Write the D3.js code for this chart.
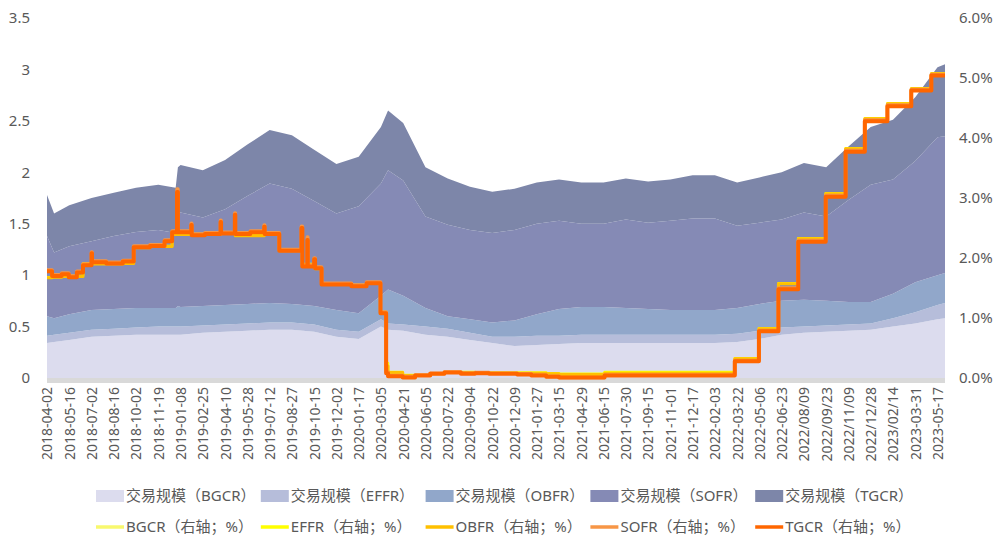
<!DOCTYPE html>
<html>
<head>
<meta charset="utf-8">
<script src="https://cdn.jsdelivr.net/npm/d3@7"></script>
<style>
  body { margin: 0; background: #fff; }
  text { font-family: "Noto Sans", "Noto Sans CJK SC", sans-serif; fill: #595959; }
</style>
</head>
<body>
<div id="grafico"></div>
<script>
// x axis labels (category axis, evenly spaced)
const tickLabels = [
  "2018-04-02", "2018-05-16", "2018-07-02", "2018-08-16", "2018-10-02", "2018-11-19",
  "2019-01-08", "2019-02-25", "2019-04-10", "2019-05-28", "2019-07-12", "2019-08-27",
  "2019-10-15", "2019-12-02", "2020-01-17", "2020-03-05", "2020-04-21", "2020-06-05",
  "2020-07-22", "2020-09-04", "2020-10-22", "2020-12-09", "2021-01-27", "2021-03-15",
  "2021-04-29", "2021-06-15", "2021-07-30", "2021-09-15", "2021-11-01", "2021-12-17",
  "2022-02-03", "2022-03-22", "2022-05-06", "2022-06-23", "2022/08/09", "2022/09/23",
  "2022/11/09", "2022/12/28", "2023/02/14", "2023-03-31", "2023-05-17"
];
const lastDate = "2023-06-02";

// 交易规模 (万亿美元)
const volDates = [
  "2018-04-02", "2018-04-16", "2018-05-16", "2018-07-02", "2018-08-16", "2018-10-02",
  "2018-11-19", "2018-12-28", "2019-01-02", "2019-01-08", "2019-02-25", "2019-04-10",
  "2019-05-28", "2019-07-12", "2019-08-27", "2019-10-15", "2019-12-02", "2020-01-17",
  "2020-03-05", "2020-03-20", "2020-04-21", "2020-06-05", "2020-07-22", "2020-09-04",
  "2020-10-22", "2020-12-09", "2021-01-27", "2021-03-15", "2021-04-29", "2021-06-15",
  "2021-07-30", "2021-09-15", "2021-11-01", "2021-12-17", "2022-02-03", "2022-03-22",
  "2022-05-06", "2022-06-23", "2022-08-09", "2022-09-23", "2022-11-09", "2022-12-28",
  "2023-02-14", "2023-03-31", "2023-05-17", "2023-06-02"
];
const volBGCR = [.34, .35, .37, .40, .41, .42, .42, .42, .42, .42, .44, .45, .46, .47, .47, .45, .40, .38,
  .50, .47, .46, .42, .40, .37, .34, .31, .32, .33, .34, .34, .34, .34, .34, .34, .34, .35,
  .38, .42, .44, .45, .46, .47, .50, .53, .57, .58];
const volEFFR = [.07, .07, .07, .07, .07, .07, .08, .08, .08, .08, .07, .07, .07, .07, .07, .07, .07, .07,
  .07, .06, .06, .08, .08, .07, .06, .09, .09, .08, .08, .08, .08, .08, .08, .08, .08, .08,
  .08, .07, .06, .06, .06, .06, .08, .11, .14, .15];
const volOBFR = [.19, .16, .18, .19, .19, .19, .18, .18, .20, .19, .19, .19, .19, .19, .18, .18, .19, .18,
  .23, .33, .28, .18, .12, .13, .14, .16, .21, .26, .27, .27, .26, .25, .24, .24, .24, .25,
  .26, .26, .26, .24, .22, .21, .24, .29, .29, .29];
const volSOFR = [.78, .64, .66, .67, .71, .74, .76, .73, .90, .92, .86, .93, 1.05, 1.16, 1.12, 1.02, .94, 1.04,
  1.09, 1.16, 1.12, .89, .89, .87, .87, .88, .88, .86, .81, .81, .86, .84, .87, .89, .89, .80,
  .79, .79, .85, .82, .99, 1.14, 1.11, 1.18, 1.34, 1.33];
const volTGCR = [.40, .38, .40, .42, .42, .43, .44, .44, .45, .46, .46, .48, .50, .52, .52, .50, .48, .48,
  .55, .58, .56, .48, .45, .42, .40, .40, .40, .40, .40, .40, .40, .40, .40, .42, .42, .42,
  .44, .46, .48, .48, .52, .56, .58, .62, .68, .70];

// 利率 (右轴, %), 数值在下一日期前保持
const rateDates = [
  "2018-04-02", "2018-04-12", "2018-05-01", "2018-05-15", "2018-06-01", "2018-06-14", "2018-07-02",
  "2018-07-03", "2018-08-01", "2018-09-04", "2018-09-27", "2018-11-01", "2018-12-03", "2018-12-20",
  "2018-12-31", "2019-01-02", "2019-01-31", "2019-02-01", "2019-03-01", "2019-04-01", "2019-04-02",
  "2019-05-01", "2019-05-02", "2019-06-03", "2019-07-01", "2019-07-02", "2019-08-01", "2019-09-17",
  "2019-09-19", "2019-09-30", "2019-10-01", "2019-10-15", "2019-10-17", "2019-10-31", "2020-01-02",
  "2020-02-03", "2020-03-04", "2020-03-16", "2020-03-20", "2020-04-20", "2020-05-15", "2020-06-15",
  "2020-07-15", "2020-08-17", "2020-09-15", "2020-10-15", "2020-11-16", "2020-12-15", "2021-01-15",
  "2021-02-16", "2021-03-15", "2021-06-17", "2022-03-17", "2022-05-05", "2022-06-16", "2022-07-28",
  "2022-09-22", "2022-11-03", "2022-12-15", "2023-02-02", "2023-03-23", "2023-05-04", "2023-06-02"
];
const rateBGCR = [1.78, 1.70, 1.74, 1.69, 1.77, 1.89, 2.09, 1.94, 1.92, 1.95, 2.19, 2.21, 2.29, 2.44,
  3.12, 2.44, 2.56, 2.39, 2.41, 2.61, 2.42, 2.73, 2.41, 2.44, 2.53, 2.41, 2.13, 2.51, 1.87, 2.32,
  1.87, 1.99, 1.84, 1.57, 1.54, 1.59, 1.09, 0.09, 0.03, 0.01, 0.04, 0.07, 0.09, 0.07, 0.08, 0.07,
  0.07, 0.06, 0.04, 0.02, 0.01, 0.04, 0.28, 0.78, 1.49, 2.28, 3.03, 3.78, 4.29, 4.54, 4.80, 5.05, 5.05];
const rateEFFR = [1.68, 1.69, 1.70, 1.70, 1.70, 1.91, 1.91, 1.91, 1.91, 1.92, 2.18, 2.20, 2.20, 2.40,
  2.40, 2.40, 2.40, 2.40, 2.40, 2.42, 2.42, 2.45, 2.38, 2.38, 2.40, 2.40, 2.13, 2.30, 1.90, 1.90,
  1.90, 1.85, 1.83, 1.58, 1.55, 1.59, 1.10, 0.25, 0.10, 0.05, 0.05, 0.08, 0.10, 0.10, 0.09, 0.09,
  0.09, 0.09, 0.09, 0.08, 0.07, 0.10, 0.33, 0.83, 1.58, 2.33, 3.08, 3.83, 4.33, 4.58, 4.83, 5.08, 5.08];
const rateOBFR = [1.67, 1.68, 1.69, 1.69, 1.69, 1.90, 1.90, 1.90, 1.90, 1.91, 2.17, 2.19, 2.19, 2.39,
  2.39, 2.39, 2.39, 2.39, 2.39, 2.41, 2.41, 2.43, 2.37, 2.37, 2.39, 2.39, 2.12, 2.28, 1.89, 1.89,
  1.89, 1.84, 1.82, 1.57, 1.54, 1.58, 1.09, 0.20, 0.09, 0.04, 0.04, 0.07, 0.09, 0.09, 0.08, 0.08,
  0.08, 0.08, 0.08, 0.07, 0.06, 0.08, 0.32, 0.82, 1.57, 2.32, 3.07, 3.82, 4.32, 4.57, 4.82, 5.07, 5.07];
const rateSOFR = [1.80, 1.72, 1.75, 1.70, 1.78, 1.90, 2.10, 1.95, 1.93, 1.96, 2.20, 2.22, 2.30, 2.45,
  3.15, 2.45, 2.58, 2.40, 2.42, 2.63, 2.43, 2.75, 2.42, 2.45, 2.55, 2.42, 2.14, 2.53, 1.88, 2.35,
  1.88, 2.00, 1.85, 1.58, 1.55, 1.60, 1.10, 0.10, 0.04, 0.02, 0.05, 0.08, 0.10, 0.08, 0.09, 0.08,
  0.08, 0.07, 0.05, 0.03, 0.01, 0.05, 0.29, 0.79, 1.50, 2.29, 3.04, 3.79, 4.30, 4.55, 4.81, 5.06, 5.06];
const rateTGCR = [1.78, 1.70, 1.73, 1.68, 1.76, 1.88, 2.08, 1.93, 1.91, 1.94, 2.18, 2.20, 2.28, 2.43,
  3.10, 2.43, 2.55, 2.38, 2.40, 2.60, 2.41, 2.72, 2.40, 2.43, 2.52, 2.40, 2.12, 2.50, 1.86, 2.30,
  1.86, 1.98, 1.83, 1.56, 1.53, 1.58, 1.08, 0.08, 0.03, 0.01, 0.04, 0.07, 0.09, 0.07, 0.08, 0.07,
  0.07, 0.06, 0.04, 0.02, 0.01, 0.04, 0.28, 0.78, 1.48, 2.27, 3.02, 3.77, 4.28, 4.53, 4.79, 5.04, 5.04];

const leftTicks = [0, 0.5, 1, 1.5, 2, 2.5, 3, 3.5];
const rightTicks = [0, 1, 2, 3, 4, 5, 6];

const volKeys = ["BGCR", "EFFR", "OBFR", "SOFR", "TGCR"];
const volColors = ["#dcdcee", "#b6bdda", "#91a7ca", "#858ab5", "#7d86a9"];
const rateColors = ["#f8f86e", "#ffff00", "#ffc000", "#f79646", "#ff6600"];
const rateWidths = [2.5, 2.5, 3, 3.5, 4];

const width = 1001;
const height = 538;
const plot = { left: 47, right: 945, top: 18, bottom: 378 };

const parse = d3.timeParse("%Y-%m-%d");
const tickDates = tickLabels.map((s) => parse(s.replace(/\//g, "-")));

const svg = d3.select("#grafico").append("svg")
  .attr("width", width)
  .attr("height", height);

// category-like time axis: ticks evenly spaced
const step = (937.5 - plot.left) / (tickDates.length - 1);
const x = d3.scaleTime()
  .domain([...tickDates, parse(lastDate)])
  .range([...tickDates.map((d, i) => plot.left + i * step), plot.right]);

const yL = d3.scaleLinear().domain([0, 3.5]).range([plot.bottom, plot.top]);
const yR = d3.scaleLinear().domain([0, 6]).range([plot.bottom, plot.top]);

// stacked volumes
const volRows = volDates.map((d, i) => ({
  date: parse(d),
  BGCR: volBGCR[i], EFFR: volEFFR[i], OBFR: volOBFR[i], SOFR: volSOFR[i], TGCR: volTGCR[i]
}));
const stacked = d3.stack().keys(volKeys)(volRows);

const area = d3.area()
  .x((d) => x(d.data.date))
  .y0((d) => yL(d[0]))
  .y1((d) => yL(d[1]));

svg.append("g")
  .selectAll("path")
  .data(stacked)
  .join("path")
  .attr("d", area)
  .attr("fill", (d, i) => volColors[i]);

// base band
svg.append("rect")
  .attr("x", plot.left)
  .attr("y", plot.bottom)
  .attr("width", plot.right - plot.left)
  .attr("height", 5)
  .attr("fill", "#d9d9d9");

// rate lines
const rateSeries = [rateBGCR, rateEFFR, rateOBFR, rateSOFR, rateTGCR];
const rDates = rateDates.map(parse);
const line = d3.line()
  .x((d) => x(d[0]))
  .y((d) => yR(d[1]))
  .curve(d3.curveStepAfter);

svg.append("g")
  .selectAll("path")
  .data(rateSeries.map((vals) => vals.map((v, i) => [rDates[i], v])))
  .join("path")
  .attr("d", line)
  .attr("fill", "none")
  .attr("stroke", (d, i) => rateColors[i])
  .attr("stroke-width", (d, i) => rateWidths[i])
  .attr("stroke-linejoin", "round");

// left axis
const gL = svg.append("g")
  .attr("transform", `translate(${plot.left - 14},0)`)
  .call(d3.axisLeft(yL).tickValues(leftTicks).tickSize(0).tickFormat((d) => d));
gL.select(".domain").remove();
gL.selectAll("text").style("font-size", "15px").attr("fill", "#595959");

// right axis
const gR = svg.append("g")
  .attr("transform", `translate(${plot.right + 11},0)`)
  .call(d3.axisRight(yR).tickValues(rightTicks).tickSize(0).tickFormat((d) => d3.format(".1f")(d) + "%"));
gR.select(".domain").remove();
gR.selectAll("text").style("font-size", "15px").attr("fill", "#595959");

// x axis
const gX = svg.append("g")
  .attr("transform", `translate(0,${plot.bottom + 5})`)
  .call(d3.axisBottom(x).tickValues(tickDates).tickSize(0).tickFormat((d, i) => tickLabels[i]));
gX.select(".domain").remove();
gX.selectAll("text")
  .attr("transform", "rotate(-90)")
  .attr("text-anchor", "end")
  .attr("x", -4)
  .attr("y", 0)
  .attr("dy", "0.35em")
  .style("font-size", "14px")
  .attr("fill", "#595959");

// legend
const legX = 96;
const legStep = 164.8;
const leg1 = svg.append("g").attr("transform", "translate(0,496)");
volKeys.forEach((k, i) => {
  const g = leg1.append("g").attr("transform", `translate(${legX + i * legStep},0)`);
  g.append("rect").attr("x", 0).attr("y", -6).attr("width", 28).attr("height", 12).attr("fill", volColors[i]);
  g.append("text").attr("x", 30).attr("dy", "0.35em").style("font-size", "15px").text(`交易规模（${k}）`);
});
const leg2 = svg.append("g").attr("transform", "translate(0,527)");
volKeys.forEach((k, i) => {
  const g = leg2.append("g").attr("transform", `translate(${legX + i * legStep},0)`);
  g.append("line").attr("x1", 0).attr("x2", 28).attr("stroke", rateColors[i]).attr("stroke-width", 3.5);
  g.append("text").attr("x", 30).attr("dy", "0.35em").style("font-size", "15px").text(`${k}（右轴；%）`);
});
</script>
</body>
</html>
